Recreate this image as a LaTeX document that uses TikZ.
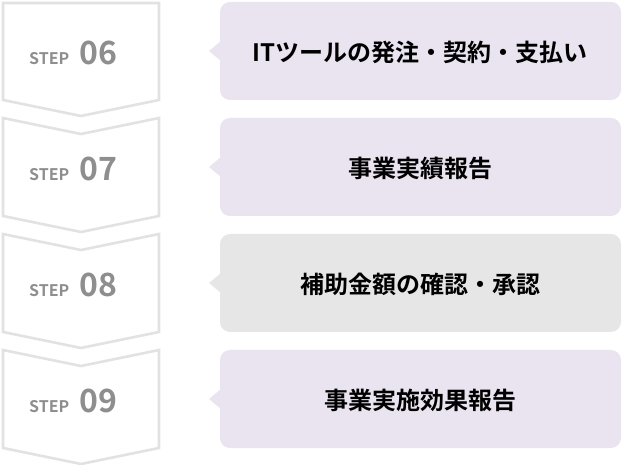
\documentclass[tikz,border=0pt]{standalone}
\usepackage{fontspec}
\newfontfamily\jp{Noto Sans CJK JP}[BoldFont={* Bold}]
\definecolor{lav}{HTML}{EAE3F0}
\definecolor{gry}{HTML}{E6E6E6}
\definecolor{edge}{HTML}{E2E2E2}
\definecolor{txt}{HTML}{8E8E8E}
\begin{document}
\begin{tikzpicture}[x=1pt,y=-1pt,
  chev/.style={draw=edge,line width=2.6pt,line join=miter,fill=white},
  boxs/.style={rounded corners=10pt},
  lbl/.style={font=\jp\bfseries\fontsize{24}{28}\selectfont,text=black},
  steplbl/.style={text=txt,anchor=base west}]
\useasboundingbox (0,0) rectangle (622,465);
\foreach \i/\n/\t/\c [count=\k from 0] in {0/06/ITツールの発注・契約・支払い/lav,1/07/事業実績報告/lav,2/08/補助金額の確認・承認/gry,3/09/事業実施効果報告/lav}{
  \pgfmathsetmacro{\oy}{116*\k}
  \begin{scope}[yshift=-\oy pt]
  \ifnum\k=0
    \draw[chev] (3,3) -- (159,3) -- (159,100) -- (81,116) -- (3,100) -- cycle;
  \else
    \draw[chev] (3,2) -- (81,18) -- (159,2) -- (159,100) -- (81,116) -- (3,100) -- cycle;
  \fi
  \node[steplbl,inner sep=0] (s\n) at (29,65) {\jp\bfseries\fontsize{16}{18}\selectfont STEP\hspace{10pt}\fontsize{32}{34}\selectfont\n};
  \fill[\c,boxs] (220,2) rectangle (621,100);
  \fill[\c] (221,41) -- (209,51) -- (221,61) -- cycle;
  \node[lbl] (t\n) at (420,52) {\t};
  \end{scope}
}
\end{tikzpicture}
\end{document}
